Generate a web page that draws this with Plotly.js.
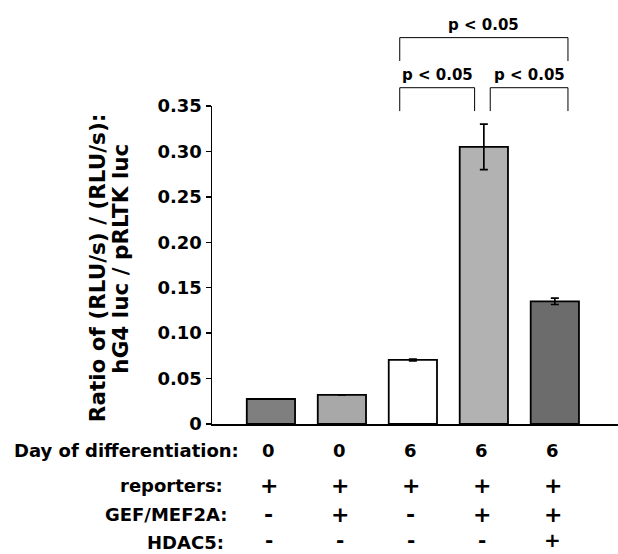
<!DOCTYPE html>
<html>
<head>
<meta charset="utf-8">
<script src="https://cdn.plot.ly/plotly-3.0.1.min.js"></script>
<style>html,body{margin:0;padding:0;background:#fff;}#chart{width:618px;height:554px;}</style>
</head>
<body>
<div id="chart"></div>
<script>
// ---- data ----
var categories = [0, 1, 2, 3, 4];
var values = [0.0275, 0.032, 0.0705, 0.305, 0.135];
var errors = [0, 0, 0.001, 0.025, 0.0035];
var barColors = ['#7f7f7f', '#a8a8a8', '#ffffff', '#b2b2b2', '#6c6c6c'];
var rowLabels = ['Day of differentiation:', 'reporters:', 'GEF/MEF2A:', 'HDAC5:'];
var dayRow = ['0', '0', '6', '6', '6'];
var reportersRow = ['+', '+', '+', '+', '+'];
var gefRow = ['-', '+', '-', '+', '+'];
var hdacRow = ['-', '-', '-', '-', '+'];
var yTickVals = [0, 0.05, 0.10, 0.15, 0.20, 0.25, 0.30, 0.35];
var yTickText = ['0', '0.05', '0.10', '0.15', '0.20', '0.25', '0.30', '0.35'];
var yTitleLines = ['Ratio of (RLU/s) / (RLU/s):', 'hG4 luc / pRLTK luc'];
// comparisons: [from, to, level, label]
var comparisons = [[2, 3, 0, 'p < 0.05'], [3, 4, 0, 'p < 0.05'], [2, 4, 1, 'p < 0.05']];

var FONT = 'DejaVu Sans, Verdana, sans-serif';

var trace = {
  type: 'bar',
  x: categories,
  y: values,
  width: 0.68,
  marker: {color: barColors, line: {color: '#000', width: 1.8}},
  error_y: {type: 'data', array: errors, visible: true, color: '#000', thickness: 1.7, width: 4},
  hoverinfo: 'none'
};

var annotations = [];
var rows = [dayRow, reportersRow, gefRow, hdacRow];
var rowY = [-0.082, -0.192, -0.285, -0.4085];
var rowAnchor = ['middle', 'middle', 'middle', 'bottom'];
var labelShift = [29, 13, 17, 14];
for (var r = 0; r < rows.length; r++) {
  annotations.push({
    xref: 'paper', yref: 'paper', x: 0, y: rowY[r], xanchor: 'right', yanchor: rowAnchor[r],
    xshift: labelShift[r], yshift: r === 3 ? -1 : 0,
    text: '<b>' + rowLabels[r] + '</b>', showarrow: false,
    font: {family: FONT, size: 18, color: '#000'}
  });
  for (var i = 0; i < categories.length; i++) {
    annotations.push({
      xref: 'x', yref: 'paper', x: categories[i], y: rowY[r], xanchor: 'center', yanchor: rowAnchor[r],
      xshift: -2,
      text: '<b>' + rows[r][i] + '</b>', showarrow: false,
      font: {family: FONT, size: r === 0 ? 18 : (r === 3 ? 20 : 22), color: '#000'}
    });
  }
}

// y-axis title, two rotated lines
var titleShift = [-115, -91];
for (var t = 0; t < yTitleLines.length; t++) {
  annotations.push({
    xref: 'paper', yref: 'paper', x: 0, y: t === 0 ? 0.49 : 0.52, xanchor: 'center', yanchor: 'middle',
    xshift: titleShift[t], textangle: -90,
    text: '<b>' + yTitleLines[t] + '</b>', showarrow: false,
    font: {family: FONT, size: 21.5, color: '#000'}
  });
}

var shapes = [];
var levelTop = [1.0575, 1.215];
var levelBottom = [0.984, 1.1415];
var inset = 0.185;
for (var c = 0; c < comparisons.length; c++) {
  var a = comparisons[c][0], b = comparisons[c][1], lv = comparisons[c][2];
  var x0 = categories[a] - inset, x1 = categories[b] + inset;
  if (lv === 0) {
    if (a === 2) { x1 = categories[b] - 0.13; }
    if (b === 4) { x0 = categories[a] + 0.09; }
  }
  shapes.push({type: 'path', xref: 'x', yref: 'paper',
    path: 'M' + x0 + ',' + levelBottom[lv] + ' L' + x0 + ',' + levelTop[lv] + ' L' + x1 + ',' + levelTop[lv] + ' L' + x1 + ',' + levelBottom[lv],
    line: {color: '#000', width: 1}});
  annotations.push({xref: 'x', yref: 'paper', x: (x0 + x1) / 2, y: levelTop[lv], yanchor: 'bottom', yshift: 2,
    text: '<b>' + comparisons[c][3] + '</b>', showarrow: false,
    font: {family: FONT, size: 15, color: '#000'}});
}

var layout = {
  width: 618, height: 554,
  margin: {l: 212, r: 0, t: 106, b: 130},
  paper_bgcolor: '#fff', plot_bgcolor: '#fff',
  showlegend: false,
  xaxis: {range: [-0.83, 4.89], showline: true, linecolor: '#000', linewidth: 1.5,
    showticklabels: false, ticks: '', showgrid: false, zeroline: false, fixedrange: true},
  yaxis: {range: [0, 0.35], showline: true, linecolor: '#000', linewidth: 1.5,
    tickvals: yTickVals, ticktext: yTickText, ticks: 'outside', ticklen: 5, tickwidth: 1.5, tickcolor: '#000',
    showgrid: false, zeroline: false,
    tickfont: {family: FONT, size: 18, color: '#000', weight: 'bold'}},
  shapes: shapes,
  annotations: annotations
};

Plotly.newPlot('chart', [trace], layout, {staticPlot: true});
</script>
</body>
</html>
